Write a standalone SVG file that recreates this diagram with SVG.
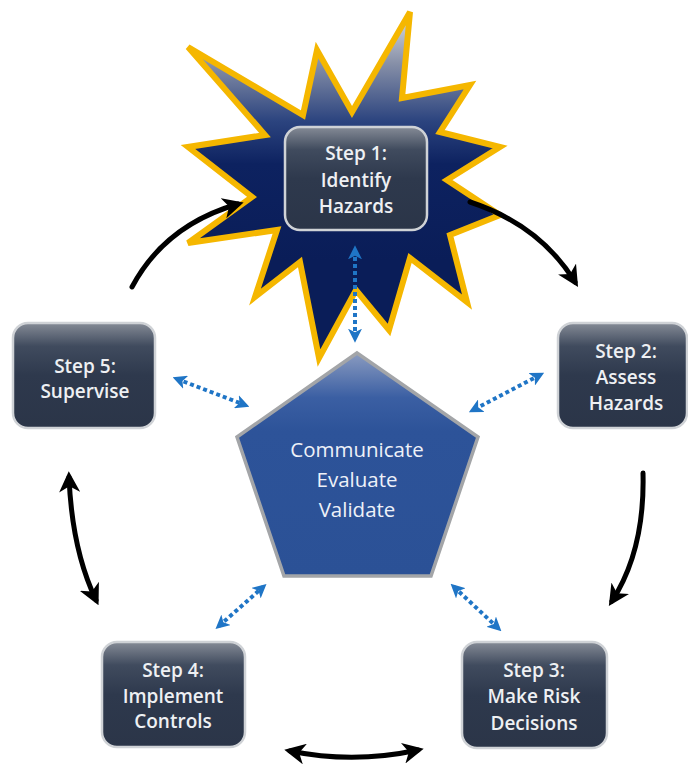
<svg xmlns="http://www.w3.org/2000/svg" width="688" height="769" viewBox="0 0 688 769">
<style>
.step{fill:url(#boxg);stroke:#cfd2d6;stroke-width:2.5}
.t{font-family:"Open Sans","DejaVu Sans",sans-serif;font-weight:600;font-size:19px;fill:#eef0f3;text-anchor:middle}
.pt{font-family:"Open Sans","DejaVu Sans",sans-serif;font-weight:500;font-size:20.5px;fill:#eef1f8;text-anchor:middle}
.blk{fill:none;stroke:#000;stroke-width:5;stroke-linecap:round}
.blue{fill:none;stroke:#1f75c6;stroke-width:4;stroke-dasharray:4 3}
</style>
<defs>
<linearGradient id="boxg" x1="0" y1="0" x2="0" y2="1">
<stop offset="0" stop-color="#858b96"/>
<stop offset="0.22" stop-color="#404b5e"/>
<stop offset="0.5" stop-color="#2e394d"/>
<stop offset="1" stop-color="#2b3548"/>
</linearGradient>
<linearGradient id="starg" x1="0" y1="20" x2="0" y2="260" gradientUnits="userSpaceOnUse">
<stop offset="0" stop-color="#d0d3da"/>
<stop offset="0.18" stop-color="#8790a8"/>
<stop offset="0.42" stop-color="#2c447f"/>
<stop offset="0.6" stop-color="#0d2260"/>
<stop offset="1" stop-color="#0a1d58"/>
</linearGradient>
<linearGradient id="peng" x1="0" y1="0" x2="0" y2="1">
<stop offset="0" stop-color="#8a9bc0"/>
<stop offset="0.2" stop-color="#3b5fa3"/>
<stop offset="0.35" stop-color="#2d5399"/>
<stop offset="1" stop-color="#2b5196"/>
</linearGradient>
<marker id="bh" viewBox="0 0 18 18" markerWidth="21" markerHeight="21" refX="13" refY="9" orient="auto-start-reverse" markerUnits="userSpaceOnUse">
<path d="M0,0 L18,9 L0,18 L5,9 z" fill="#000"/>
</marker>
<marker id="uh" viewBox="0 0 12 12" markerWidth="14" markerHeight="14" refX="8" refY="6" orient="auto-start-reverse" markerUnits="userSpaceOnUse">
<path d="M0,0 L12,6 L0,12 L3,6 z" fill="#1f75c6"/>
</marker>
</defs>
<rect width="688" height="769" fill="#fff"/>

<g id="starburst">
<polygon points="188,47 303,115 317,50 352,112 410,12 402,98 470,85 440,132 500,147 447,180 500,215 450,235 467,302 410,258 389,330 356,290 319,358 300,262 255,297 277,230 188,243 252,197 188,147 265,135" fill="url(#starg)" stroke="#f5b700" stroke-width="6" stroke-linejoin="miter"/>
</g>

<g id="connectors">
<path class="blk" d="M132,287 Q165,225 238,204" marker-end="url(#bh)"/>
<path class="blk" d="M470,202 Q540,225 575,282" marker-end="url(#bh)"/>
<path class="blk" d="M643,473 Q645,550 612,601" marker-end="url(#bh)"/>
<path class="blk" d="M290,751 Q354,764 418,750" marker-start="url(#bh)" marker-end="url(#bh)"/>
<path class="blk" d="M69,477 Q72,550 96,600" marker-start="url(#bh)" marker-end="url(#bh)"/>
<path class="blue" d="M355,250 L355,338" marker-start="url(#uh)" marker-end="url(#uh)"/>
<path class="blue" d="M177,379 L245,405" marker-start="url(#uh)" marker-end="url(#uh)"/>
<path class="blue" d="M540,375 L473,410" marker-start="url(#uh)" marker-end="url(#uh)"/>
<path class="blue" d="M219,626 L263,587" marker-start="url(#uh)" marker-end="url(#uh)"/>
<path class="blue" d="M454,587 L498,628" marker-start="url(#uh)" marker-end="url(#uh)"/>
</g>

<g id="center">
<polygon points="357,353 478,437 431,576 284,576 237,437" fill="url(#peng)" stroke="#a3a5a8" stroke-width="3.5"/>
<text class="pt" x="357" y="457">Communicate</text>
<text class="pt" x="357" y="487">Evaluate</text>
<text class="pt" x="357" y="517">Validate</text>
</g>

<g id="step1">
<rect class="step" x="285" y="127" width="142" height="103" rx="15"/>
<text class="t" x="356" y="160">Step 1:</text>
<text class="t" x="356" y="187">Identify</text>
<text class="t" x="356" y="213">Hazards</text>
</g>

<g id="step2">
<rect class="step" x="558" y="323" width="129" height="105" rx="15"/>
<text class="t" x="626" y="358">Step 2:</text>
<text class="t" x="626" y="384">Assess</text>
<text class="t" x="626" y="410">Hazards</text>
</g>

<g id="step3">
<rect class="step" x="462" y="642" width="145" height="106" rx="15"/>
<text class="t" x="534" y="677">Step 3:</text>
<text class="t" x="534" y="703">Make Risk</text>
<text class="t" x="534" y="730">Decisions</text>
</g>

<g id="step4">
<rect class="step" x="102" y="642" width="143" height="105" rx="15"/>
<text class="t" x="173" y="677">Step 4:</text>
<text class="t" x="173" y="703">Implement</text>
<text class="t" x="173" y="728">Controls</text>
</g>

<g id="step5">
<rect class="step" x="13" y="323" width="142" height="105" rx="15"/>
<text class="t" x="85" y="373">Step 5:</text>
<text class="t" x="85" y="398">Supervise</text>
</g>
</svg>
